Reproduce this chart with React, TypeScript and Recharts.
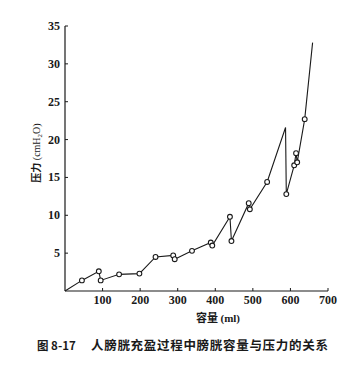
import { LineChart, Line, XAxis, YAxis } from "recharts"

// bladder volume (ml) vs pressure (cmH2O)
const volume = [0, 45, 90, 95, 144, 198, 241, 288, 292, 338, 388, 392, 439, 443, 489, 492, 538, 587, 589, 610, 615, 618, 638, 659]
const pressure = [0, 1.4, 2.6, 1.4, 2.2, 2.3, 4.5, 4.7, 4.2, 5.3, 6.4, 6.0, 9.8, 6.6, 11.6, 10.8, 14.4, 21.6, 12.8, 16.6, 18.2, 17.0, 22.7, 32.8]
const marked = [false, true, true, true, true, true, true, true, true, true, true, true, true, true, true, true, true, false, true, true, true, true, true, false]

const xTicks = [100, 200, 300, 400, 500, 600, 700]
const yTicks = [5, 10, 15, 20, 25, 30, 35]

const data = volume.map((v, i) => ({ v, p: pressure[i] }))

const serif = "'Liberation Serif', 'Times New Roman', 'Noto Sans CJK SC', serif"
const cjk = "'Noto Sans CJK SC', 'Liberation Serif', serif"
const ink = "#1a1a1a"

const YTick = (props: any) => {
  const { x, y, payload } = props
  const ax = x + 5
  return (
    <g>
      <line x1={ax} x2={ax + 3} y1={y} y2={y} stroke={ink} />
      <text x={x} y={y} dy={4} textAnchor="end" fontFamily={serif} fontWeight="bold" fontSize={12} fill={ink}>
        {payload.value}
      </text>
    </g>
  )
}

const XTick = (props: any) => {
  const { x, y, payload } = props
  const ay = y - 3
  return (
    <g>
      <line x1={x} x2={x} y1={ay} y2={ay - 3} stroke={ink} />
      <text x={x} y={y} dy={10} textAnchor="middle" fontFamily={serif} fontWeight="bold" fontSize={12} fill={ink}>
        {payload.value}
      </text>
    </g>
  )
}

const Dot = (props: any) => {
  const { cx, cy, index } = props
  if (!marked[index]) return <g key={`d${index}`} />
  return <circle key={`d${index}`} cx={cx} cy={cy} r={2.4} fill="#fff" stroke={ink} strokeWidth={1.1} />
}

export default function App() {
  return (
    <div style={{ position: "absolute", left: 0, top: 0, background: "#fff" }}>
      <LineChart width={351} height={368} data={data} margin={{ top: 26, right: 23, left: 0, bottom: 47 }}>
        <XAxis
          dataKey="v"
          type="number"
          domain={[0, 700]}
          ticks={xTicks}
          tickSize={0}
          tickMargin={3}
          height={30}
          tick={<XTick />}
          stroke={ink}
          axisLine={{ stroke: ink, strokeWidth: 1.2 }}
          tickLine={false}
        />
        <YAxis
          type="number"
          domain={[0, 35]}
          ticks={yTicks}
          width={65}
          tickSize={0}
          tickMargin={5}
          tick={<YTick />}
          axisLine={{ stroke: ink, strokeWidth: 1.2 }}
          tickLine={false}
        />
        <Line
          type="linear"
          dataKey="p"
          stroke={ink}
          strokeWidth={1.1}
          dot={<Dot />}
          activeDot={false}
          isAnimationActive={false}
        />
        <text transform="translate(40,153) rotate(-90)" textAnchor="middle" fontFamily={cjk} fontSize={10} fontWeight="bold" fill={ink}>
          压力
          <tspan fontFamily={serif} fontWeight="normal"> (cmH</tspan>
          <tspan fontFamily={serif} fontWeight="normal" fontSize={7} dy={2}>2</tspan>
          <tspan fontFamily={serif} fontWeight="normal" dy={-2}>O)</tspan>
        </text>
        <text x={218} y={322} textAnchor="middle" fontFamily={cjk} fontSize={11} fontWeight="bold" fill={ink}>
          容量 <tspan fontFamily={serif}>(ml)</tspan>
        </text>
        <text x={37} y={350} fontFamily={cjk} fontSize={11.5} fontWeight="bold" fill={ink}>
          图 8-17
        </text>
        <text x={91} y={350} fontFamily={cjk} fontSize={12.5} fontWeight="bold" fill={ink} letterSpacing={0.7}>
          人膀胱充盈过程中膀胱容量与压力的关系
        </text>
      </LineChart>
    </div>
  )
}
